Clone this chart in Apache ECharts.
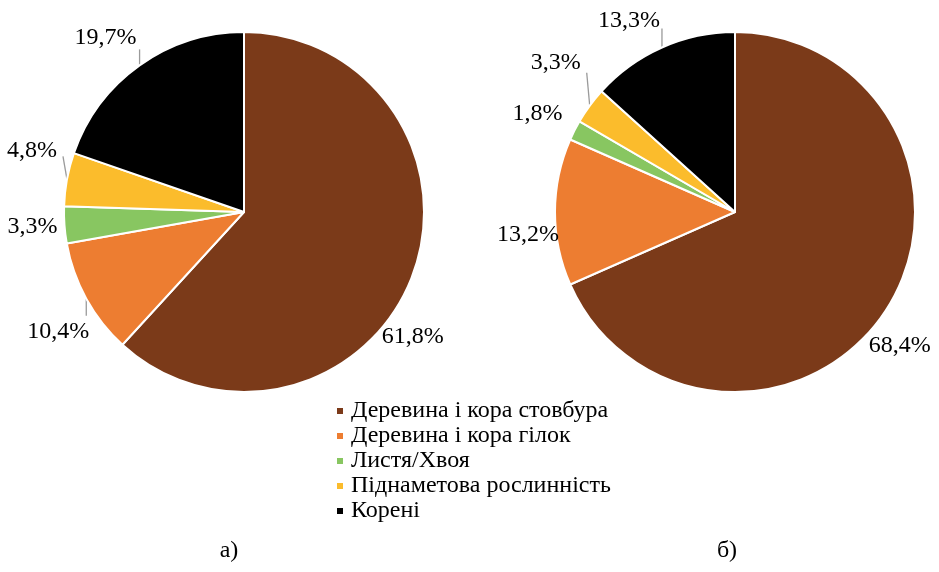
<!DOCTYPE html>
<html><head><meta charset="utf-8">
<script src="https://cdn.jsdelivr.net/npm/echarts@6/dist/echarts.min.js"></script>
<style>html,body{margin:0;padding:0;background:#fff}#c{width:939px;height:572px}</style>
</head><body><div id="c"></div>
<script>
const categories = ['Деревина і кора стовбура','Деревина і кора гілок','Листя/Хвоя','Піднаметова рослинність','Корені'];
const valuesA = [61.8, 10.4, 3.3, 4.8, 19.7];
const valuesB = [68.4, 13.2, 1.8, 3.3, 13.3];
const captions = ['а)', 'б)'];

// ---- styling / layout (not data) ----
const colors = ['#7B3A19','#ED7D31','#88C661','#FBBC2C','#000000'];
const FONT = '"Liberation Serif", "Times New Roman", serif';
const R = 180;
const centers = [[244,212],[735,212]];
// label offset from slice edge midpoint, and leader-line end offset (null = no line)
const labelOffA = [[1,59],[-28,33],[-32,2],[-35,-29],[-34,-28]];
const lineEndA  = [null,[0,17],null,[-4,-23],[0,-16]];
const labelOffB = [[14,35],[-27,23],[-37,-17],[-34,-43],[-33,-27]];
const lineEndB  = [null,null,null,[-3,-33],[0,-19]];

function fmt(p){ return p.value.toFixed(1).replace('.', ',') + '%'; }

function edgePoints(vals, c){
  const total = vals.reduce((a,b)=>a+b,0);
  let cum = 0;
  return vals.map(v=>{
    const th = 2*Math.PI*(cum + v/2)/total; cum += v;
    return [c[0] + R*Math.sin(th), c[1] - R*Math.cos(th)];
  });
}
const edges = [edgePoints(valuesA, centers[0]), edgePoints(valuesB, centers[1])];
const offs = [labelOffA, labelOffB];
const lines = [lineEndA, lineEndB];

function pie(si, vals){
  return {
    type:'pie', radius:R, center:centers[si], startAngle:90, clockwise:true,
    avoidLabelOverlap:false,
    itemStyle:{borderColor:'#fff', borderWidth:2},
    label:{show:true, position:'outside', formatter:fmt, color:'#000', fontFamily:FONT, fontSize:24},
    labelLine:{show:true, length:10, length2:0, lineStyle:{color:'#9A9A9A', width:1.3}},
    labelLayout:function(p){
      const i = p.dataIndex, e = edges[si][i], o = offs[si][i], le = lines[si][i];
      const res = {x:e[0]+o[0], y:e[1]+o[1], align:'center', verticalAlign:'middle'};
      if (le) {
        const end = [e[0]+le[0], e[1]+le[1]];
        res.labelLinePoints = [[e[0],e[1]], end, end];
      } else {
        res.labelLinePoints = [[e[0],e[1]],[e[0],e[1]],[e[0],e[1]]];
      }
      return res;
    },
    emphasis:{disabled:true},
    data: categories.map((n,i)=>({name:n, value:vals[i]}))
  };
}
const chart = echarts.init(document.getElementById('c'), null, {renderer:'canvas'});
chart.setOption({
  animation:false,
  color:colors,
  legend:{
    orient:'vertical', left:330, top:394, itemWidth:8, itemHeight:8, itemGap:1,
    icon:'rect', selectedMode:false,
    textStyle:{fontFamily:FONT, fontSize:24, lineHeight:24, color:'#000', padding:[0,0,0,2]},
    data:categories
  },
  graphic:[
    {type:'text', x:229, y:551, style:{text:captions[0], font:'24px '+FONT, fill:'#000', align:'center', verticalAlign:'middle'}},
    {type:'text', x:727, y:551, style:{text:captions[1], font:'24px '+FONT, fill:'#000', align:'center', verticalAlign:'middle'}}
  ],
  series:[ pie(0, valuesA), pie(1, valuesB) ]
});
</script></body></html>
